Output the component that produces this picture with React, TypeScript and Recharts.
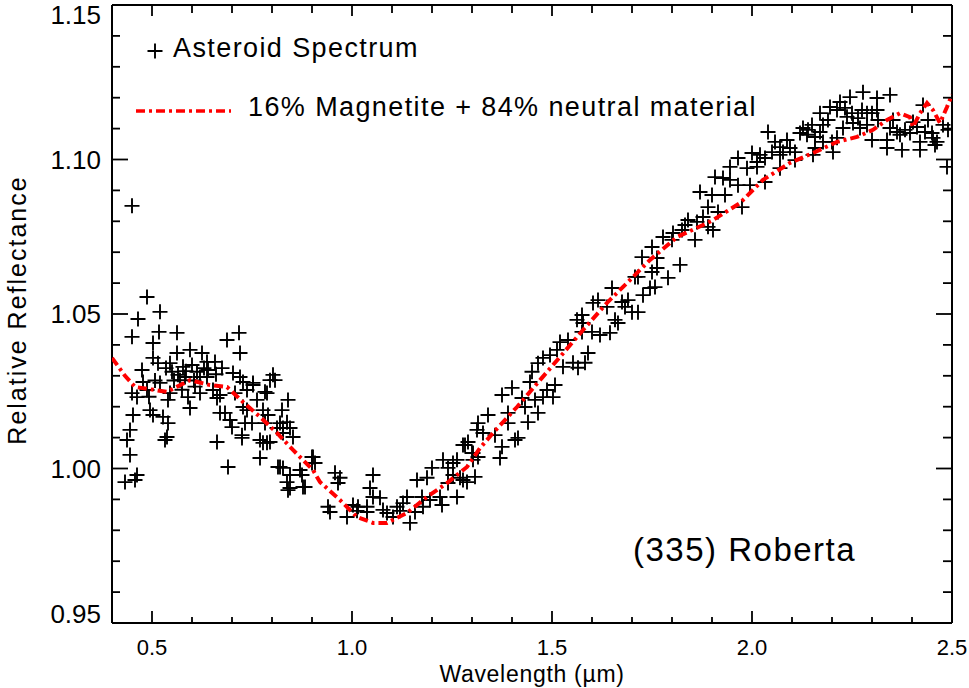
import React from "react";
import { ScatterChart, Scatter, XAxis, YAxis, Legend } from "recharts";

const FONT = '"Liberation Sans", Arial, Helvetica, sans-serif';

// axis ticks (IDL style: labelled majors + minor ticks, all pointing inward)
const X_MAJOR = [0.5, 1.0, 1.5, 2.0, 2.5];
const X_MINOR = [0.6, 0.7, 0.8, 0.9, 1.1, 1.2, 1.3, 1.4, 1.6, 1.7, 1.8, 1.9, 2.1, 2.2, 2.3, 2.4];
const Y_MAJOR = [0.95, 1.0, 1.05, 1.1, 1.15];
const Y_MINOR = [0.96, 0.97, 0.98, 0.99, 1.01, 1.02, 1.03, 1.04, 1.06, 1.07, 1.08, 1.09, 1.11, 1.12, 1.13, 1.14];

// asteroid spectrum, [wavelength µm, relative reflectance]
const specVisible: [number, number][] = [
  [0.45, 1.085], [0.4875, 1.0555], [0.52, 1.0507], [0.465, 1.0484], [0.45, 1.0426], [0.5175, 1.0442],
  [0.5625, 1.0439], [0.5025, 1.0406], [0.6875, 1.0416], [0.7175, 1.0439], [0.72, 1.0374], [0.595, 1.0384],
  [0.625, 1.0374], [0.5625, 1.0374], [0.5025, 1.0358], [0.515, 1.0341], [0.475, 1.0319], [0.545, 1.0341],
  [0.5775, 1.0329], [0.6375, 1.0345], [0.6575, 1.0345], [0.55, 1.0313], [0.565, 1.0303], [0.5825, 1.0296],
  [0.6125, 1.0313], [0.64, 1.0319], [0.62, 1.0296], [0.6375, 1.0296], [0.52, 1.0277], [0.4775, 1.028],
  [0.45, 1.0244], [0.4625, 1.0231], [0.4875, 1.0254], [0.545, 1.0244], [0.57, 1.0286], [0.59, 1.0231],
  [0.62, 1.0244], [0.6525, 1.0254], [0.6625, 1.0228], [0.595, 1.0196], [0.54, 1.0222], [0.4525, 1.0173],
  [0.495, 1.0189], [0.5025, 1.0173], [0.5275, 1.0167], [0.54, 1.0147], [0.445, 1.0125], [0.4375, 1.0092],
  [0.5375, 1.0102], [0.5325, 1.0092], [0.6625, 1.0086], [0.445, 1.0044], [0.4325, 0.9956], [0.4575, 0.9963],
  [0.4625, 0.9979], [0.69, 1.0005], [0.7025, 1.0309], [0.72, 1.0296], [0.7275, 1.028], [0.7525, 1.0277],
  [0.7075, 1.0244], [0.7375, 1.0254], [0.8025, 1.0303], [0.795, 1.0286], [0.7875, 1.0244], [0.7625, 1.0222],
  [0.67, 1.0238], [0.67, 1.018], [0.6825, 1.018], [0.695, 1.0157], [0.7, 1.0134], [0.725, 1.0108],
  [0.7375, 1.0189], [0.75, 1.0147], [0.7775, 1.0189], [0.79, 1.0173], [0.77, 1.0092], [0.77, 1.0034],
  [0.7875, 1.0083], [0.84, 1.0222], [0.825, 1.0189], [0.82, 1.0147], [0.8375, 1.015], [0.845, 1.0131],
  [0.8275, 1.0131], [0.8275, 1.0115], [0.8525, 1.0102], [0.815, 1.0005], [0.8275, 1.0002], [0.8375, 0.9956],
  [0.845, 0.9937], [0.87, 0.9995], [0.875, 0.9979], [0.8775, 0.994], [0.9, 1.0037], [0.9075, 1.0018],
  [0.7525, 1.027], [0.8075, 1.0286], [0.7825, 1.0248], [0.7275, 1.0199], [0.7325, 1.0147], [0.7825, 1.0147],
  [0.8125, 1.0131], [0.725, 1.0099], [0.7775, 1.0083], [0.795, 1.0086], [0.82, 1.0005], [0.9025, 1.0037],
  [0.9, 1.0018], [0.845, 0.9979], [0.8825, 0.994], [0.84, 0.993],
  [0.535, 1.0325], [0.555, 1.0285], [0.585, 1.0315], [0.605, 1.0285], [0.6, 1.0335], [0.63, 1.0325],
  [0.66, 1.0305], [0.675, 1.0325], [0.5075, 1.0285], [0.4925, 1.0232], [0.575, 1.0255], [0.6075, 1.0265],
];

const specBand: [number, number][] = [
  [0.9575, 0.9986], [0.97, 0.997], [0.965, 0.9953], [0.94, 0.9876], [0.945, 0.9859], [0.9875, 0.9843],
  [1.0025, 0.9882], [1.015, 0.9876], [1.0125, 0.9863], [1.0525, 0.9979], [1.045, 0.9937], [1.0525, 0.9908],
  [1.07, 0.9905], [1.0375, 0.9876], [1.0375, 0.9859], [1.0775, 0.9866], [1.0875, 0.9856], [1.1025, 0.9843],
  [1.1125, 0.9876], [1.1275, 0.9888], [1.1375, 0.9908], [1.12, 0.9863], [1.145, 0.9824], [1.1625, 0.9963],
  [1.1575, 0.9859], [1.175, 0.9908], [1.1875, 0.997], [1.2, 1.0002], [1.1775, 0.9876], [1.195, 0.9898],
  [1.22, 0.9908], [1.2275, 1.0028], [1.24, 1.0002], [1.2525, 1.0018], [1.225, 0.9882], [1.2625, 0.9908],
  [1.2525, 0.9979], [1.24, 0.9953], [1.27, 0.997], [1.2875, 0.9956], [1.3075, 0.9973], [1.2775, 1.0076],
  [1.29, 1.0086], [1.315, 1.0147], [1.3025, 1.005], [1.3025, 1.0028], [1.2775, 0.9963], [1.2625, 1.0028],
  [1.2825, 1.0076], [1.3, 1.005], [1.315, 1.0037], [1.3125, 1.0125], [1.34, 1.0173], [1.3275, 1.0115],
];

const specSlope: [number, number][] = [
  [1.3575, 1.0108], [1.375, 1.007], [1.37, 1.0034], [1.4075, 1.0092], [1.415, 1.0099], [1.39, 1.0147],
  [1.39, 1.018], [1.375, 1.0238], [1.4, 1.0261], [1.425, 1.0228], [1.4325, 1.0199], [1.44, 1.015],
  [1.465, 1.018], [1.4575, 1.0222], [1.4775, 1.0231], [1.5025, 1.0231], [1.4875, 1.0254], [1.5075, 1.027],
  [1.445, 1.028], [1.45, 1.0313], [1.465, 1.0341], [1.4775, 1.0358], [1.495, 1.0367], [1.5125, 1.0384],
  [1.52, 1.0409], [1.54, 1.0416], [1.5275, 1.0329], [1.5525, 1.0342], [1.565, 1.0326], [1.5825, 1.0342],
  [1.59, 1.0374], [1.5625, 1.0481], [1.575, 1.0497], [1.5775, 1.0471], [1.575, 1.0442], [1.6025, 1.0536],
  [1.615, 1.0545], [1.6, 1.0442], [1.62, 1.0432], [1.645, 1.0439], [1.6375, 1.0523], [1.6575, 1.0481],
  [1.665, 1.0471], [1.65, 1.0584], [1.675, 1.0539], [1.69, 1.0545], [1.6825, 1.0523], [1.7, 1.0506],
  [1.715, 1.0506], [1.7075, 1.062], [1.725, 1.0684], [1.715, 1.062], [1.7275, 1.0561], [1.745, 1.0584],
  [1.7575, 1.0587], [1.75, 1.0636], [1.7625, 1.0649], [1.79, 1.0617], [1.75, 1.0717], [1.7625, 1.0681],
  [1.7775, 1.0749], [1.8, 1.074], [1.8025, 1.0762], [1.82, 1.0659], [1.825, 1.0772], [1.84, 1.0804],
  [1.8575, 1.074], [1.8625, 1.0798], [1.8775, 1.0814], [1.89, 1.0782], [1.8325, 1.0788],
];

const specInfrared: [number, number][] = [
  [1.9025, 1.0772], [1.89, 1.0846], [1.915, 1.083], [1.87, 1.0895], [1.9, 1.0885], [1.9325, 1.0885],
  [1.9075, 1.0943], [1.9275, 1.094], [1.945, 1.0934], [1.965, 1.0917], [1.975, 1.0846], [1.995, 1.0917],
  [1.945, 1.0976], [1.965, 1.1005], [1.9875, 1.0972], [2.0, 1.1021], [2.02, 1.1015], [2.0125, 1.0992],
  [2.0325, 1.1005], [2.0125, 1.0976], [2.0325, 1.0927], [2.04, 1.1089], [2.0575, 1.1057], [2.07, 1.104],
  [2.05, 1.1024], [2.0875, 1.1063], [2.07, 1.1015], [2.095, 1.1037], [2.1075, 1.1024], [2.0775, 1.1024],
  [2.1075, 1.0998], [2.07, 1.0972], [2.1275, 1.1102], [2.14, 1.1096], [2.12, 1.1086], [2.15, 1.1112],
  [2.1375, 1.108], [2.1575, 1.1073], [2.17, 1.1089], [2.1775, 1.1112], [2.19, 1.1128], [2.1575, 1.1037],
  [2.1775, 1.1057], [2.2, 1.1057], [2.1525, 1.1015], [2.2025, 1.1024], [2.2125, 1.107], [2.17, 1.115],
  [2.195, 1.117], [2.2125, 1.116], [2.22, 1.1186], [2.2325, 1.1167], [2.245, 1.1202], [2.2375, 1.1138],
  [2.25, 1.115], [2.265, 1.1134], [2.2775, 1.1218], [2.275, 1.116], [2.2875, 1.115], [2.3, 1.115],
  [2.3125, 1.116], [2.3125, 1.1199], [2.345, 1.1209], [2.2525, 1.1118], [2.27, 1.1102], [2.2275, 1.1102],
  [2.2875, 1.1112], [2.3, 1.1063], [2.315, 1.1128], [2.3375, 1.1063], [2.3375, 1.1037], [2.345, 1.1102],
  [2.3525, 1.1128], [2.3625, 1.1089], [2.37, 1.108], [2.375, 1.1031], [2.3825, 1.1096], [2.395, 1.1086],
  [2.4025, 1.1121], [2.4125, 1.1105], [2.4275, 1.1176], [2.44, 1.1128], [2.4325, 1.1089], [2.42, 1.1057],
  [2.42, 1.1031], [2.45, 1.1086], [2.4525, 1.107], [2.4625, 1.1057], [2.4575, 1.1047], [2.4775, 1.1112],
  [2.49, 1.1096], [2.4875, 1.0976],
];

// 16% magnetite + 84% neutral material model
const modelWave = [
  0.4, 0.4325, 0.4575, 0.5375, 0.595, 0.645, 0.6875, 0.7275, 0.77, 0.8125, 0.8525, 0.9025, 0.92, 0.97,
  1.0125, 1.0525, 1.0875, 1.1375, 1.1875, 1.2375, 1.2875, 1.32, 1.3525, 1.4125, 1.47, 1.52, 1.5775,
  1.6375, 1.695, 1.745, 1.8125, 1.8875, 1.9025, 1.97, 2.0275, 2.095, 2.1525, 2.2125, 2.2625, 2.3025,
  2.3375, 2.37, 2.395, 2.4025, 2.42, 2.4375, 2.4525, 2.47, 2.4875, 2.5,
];
const modelRefl = [
  1.0358, 1.03, 1.0264, 1.0248, 1.0286, 1.027, 1.0264, 1.0215, 1.0167, 1.0115, 1.006, 0.9995, 0.9956,
  0.9898, 0.9843, 0.9824, 0.9824, 0.9856, 0.9908, 0.9953, 1.0005, 1.0066, 1.0115, 1.0199, 1.0286,
  1.0361, 1.0448, 1.0536, 1.061, 1.0675, 1.0749, 1.0794, 1.0804, 1.0859, 1.0934, 1.0989, 1.1021,
  1.1057, 1.1073, 1.1096, 1.1128, 1.115, 1.1137, 1.1105, 1.115, 1.1183, 1.116, 1.1118, 1.117, 1.121,
];

const spectrum = [...specVisible, ...specBand, ...specSlope, ...specInfrared].map(([x, y]) => ({ x, y }));
const model = modelWave.map((x, i) => ({ x, y: modelRefl[i] }));

const X_TICKS = [...X_MAJOR, ...X_MINOR].sort((a, b) => a - b);
const Y_TICKS = [...Y_MAJOR, ...Y_MINOR].sort((a, b) => a - b);

const RED = "#ff0000";
const DASH = "9 4 3 4";

const PlusMarker = (props: any) => {
  const { cx, cy } = props;
  if (cx == null || cy == null) return <g />;
  return <path d={`M${cx - 7.5},${cy}h15M${cx},${cy - 7.5}v15`} stroke="#000" strokeWidth={1.9} fill="none" />;
};

const BottomTick = ({ x, y, payload }: any) => {
  const major = X_MAJOR.includes(payload.value);
  return (
    <g>
      <line x1={x} x2={x} y1={y} y2={y - (major ? 12 : 6)} stroke="#000" strokeWidth={1.8} />
      {major && (
        <text x={x} y={y + 32} textAnchor="middle" fontSize={22} fontFamily={FONT} fill="#000">
          {payload.value.toFixed(1)}
        </text>
      )}
    </g>
  );
};

const TopTick = ({ x, y, payload }: any) => {
  const major = X_MAJOR.includes(payload.value);
  return <line x1={x} x2={x} y1={y} y2={y + (major ? 11 : 8)} stroke="#000" strokeWidth={1.8} />;
};

const LeftTick = ({ x, y, payload }: any) => {
  const v = payload.value;
  const major = Y_MAJOR.includes(v);
  // end labels are nudged inside the frame
  const shift = v === 1.15 ? 19 : v === 0.95 ? 0 : 9;
  return (
    <g>
      <line x1={x} x2={x + (major ? 16 : 8)} y1={y} y2={y} stroke="#000" strokeWidth={1.8} />
      {major && (
        <text x={x - 11} y={y + shift} textAnchor="end" fontSize={26} fontFamily={FONT} fill="#000">
          {v.toFixed(2)}
        </text>
      )}
    </g>
  );
};

const RightTick = ({ x, y, payload }: any) => {
  const major = Y_MAJOR.includes(payload.value);
  return <line x1={x} x2={x - (major ? 16 : 9)} y1={y} y2={y} stroke="#000" strokeWidth={1.8} />;
};

const LegendBox = () => (
  <svg width={969} height={140} style={{ display: "block", overflow: "visible" }}>
    <path d="M147.5,51h15M155,43.5v15" stroke="#000" strokeWidth={1.9} fill="none" />
    <text x={173} y={57} fontSize={27} letterSpacing={1.4} fontFamily={FONT} fill="#000">
      Asteroid Spectrum
    </text>
    <line x1={136} x2={231} y1={111} y2={111} stroke={RED} strokeWidth={3.5} strokeDasharray={DASH} />
    <text x={248} y={116} fontSize={27} letterSpacing={1.4} fontFamily={FONT} fill="#000">
      16% Magnetite + 84% neutral material
    </text>
  </svg>
);

const axisLine = { stroke: "#000", strokeWidth: 2 };

export default function App() {
  return (
    <div style={{ position: "absolute", left: 0, top: 0, width: 969, height: 688, background: "#fff" }}>
      <ScatterChart width={969} height={688} margin={{ top: 0, right: 0, bottom: 0, left: 0 }}>
        <XAxis
          xAxisId="b"
          type="number"
          dataKey="x"
          domain={[0.4, 2.5]}
          allowDataOverflow
          ticks={X_TICKS}
          interval={0}
          tickSize={0}
          tickMargin={0}
          tickLine={false}
          axisLine={axisLine}
          tick={(p: any) => <BottomTick {...p} />}
          height={65}
          label={{
            value: "Wavelength (µm)",
            position: "insideBottom",
            offset: 6,
            fontSize: 23,
            fill: "#000",
            fontFamily: FONT,
            letterSpacing: 0.7,
          }}
        />
        <XAxis
          xAxisId="t"
          orientation="top"
          type="number"
          dataKey="x"
          domain={[0.4, 2.5]}
          allowDataOverflow
          ticks={X_TICKS}
          interval={0}
          tickSize={0}
          tickMargin={0}
          tickLine={false}
          axisLine={axisLine}
          tick={(p: any) => <TopTick {...p} />}
          height={5}
        />
        <YAxis
          yAxisId="l"
          type="number"
          dataKey="y"
          domain={[0.95, 1.15]}
          allowDataOverflow
          ticks={Y_TICKS}
          interval={0}
          tickSize={0}
          tickMargin={0}
          tickLine={false}
          axisLine={axisLine}
          tick={(p: any) => <LeftTick {...p} />}
          width={112}
          label={{
            content: () => (
              <text
                x={17}
                y={310}
                transform="rotate(-90 17 310)"
                textAnchor="middle"
                dominantBaseline="central"
                fontSize={25}
                letterSpacing={2}
                fontFamily={FONT}
                fill="#000"
              >
                Relative Reflectance
              </text>
            ),
          }}
        />
        <YAxis
          yAxisId="r"
          orientation="right"
          type="number"
          dataKey="y"
          domain={[0.95, 1.15]}
          allowDataOverflow
          ticks={Y_TICKS}
          interval={0}
          tickSize={0}
          tickMargin={0}
          tickLine={false}
          axisLine={axisLine}
          tick={(p: any) => <RightTick {...p} />}
          width={17}
        />
        <Legend
          layout="vertical"
          align="center"
          verticalAlign="middle"
          wrapperStyle={{ left: 0, top: 0, width: 969, height: 140 }}
          content={() => <LegendBox />}
        />
        <Scatter
          name="Asteroid Spectrum"
          data={spectrum}
          xAxisId="b"
          yAxisId="l"
          shape={(p: any) => <PlusMarker {...p} />}
          isAnimationActive={false}
        />
        <Scatter
          name="16% Magnetite + 84% neutral material"
          data={model}
          xAxisId="t"
          yAxisId="r"
          line={{ stroke: RED, strokeWidth: 4, strokeDasharray: DASH }}
          lineType="joint"
          shape={() => <g />}
          isAnimationActive={false}
        />
      </ScatterChart>
      <svg width={969} height={688} style={{ position: "absolute", left: 0, top: 0, pointerEvents: "none" }}>
        <text x={633} y={561} fontSize={33} letterSpacing={1.5} fontFamily={FONT} fill="#000">
          (335) Roberta
        </text>
      </svg>
    </div>
  );
}
